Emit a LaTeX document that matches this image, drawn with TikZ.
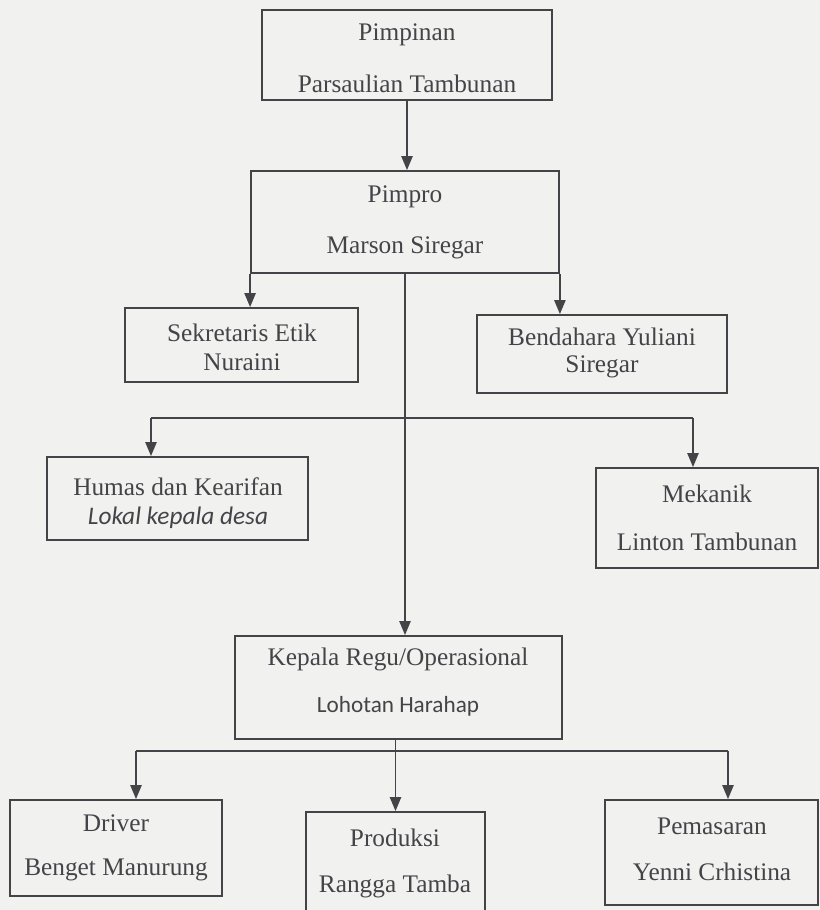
\documentclass[tikz,border=0pt]{standalone}
\usepackage{fontspec}
\setmainfont{Liberation Serif}
\newfontfamily\calibri{Carlito}
\usetikzlibrary{arrows.meta,fit,calc}
\definecolor{inkgray}{RGB}{68,68,72}
\definecolor{paper}{RGB}{241,241,240}

\begin{document}
\begin{tikzpicture}[x=0.025cm, y=-0.025cm,
  box/.style={draw=inkgray, line width=1.3pt, inner sep=0pt},
  lbl/.style={text=inkgray, font=\fontsize{18}{20}\selectfont, inner sep=0pt},
  arr/.style={draw=inkgray, line width=1.3pt, -{Triangle[length=10pt, width=8pt]}},
  link/.style={draw=inkgray, line width=1.3pt}]

% Page
\useasboundingbox (0,0) rectangle (820,910);
\fill[paper] (0,0) rectangle (820,910);

% Top level
\node[box, fit={(262,10) (552,100)}] (pimpinan) {};
\node[lbl] (pimpinan-jab) at (407,35) {Pimpinan};
\node[lbl] (pimpinan-nama) at (407,84) {Parsaulian Tambunan};

\node[box, fit={(251,171) (559,273)}] (pimpro) {};
\node[lbl] (pimpro-jab) at (405,197) {Pimpro};
\node[lbl] (pimpro-nama) at (405,248) {Marson Siregar};

% Staff
\node[box, fit={(125,308) (358,382)}] (sekretaris) {};
\node[lbl] (sekretaris-jab) at (242,333) {Sekretaris Etik};
\node[lbl] (sekretaris-nama) at (242,362) {Nuraini};

\node[box, fit={(477,315) (727,393)}] (bendahara) {};
\node[lbl] (bendahara-jab) at (602,337) {Bendahara Yuliani};
\node[lbl] (bendahara-nama) at (602,367) {Siregar};

\node[box, fit={(47,457) (308,540)}] (humas) {};
\node[lbl] (humas-jab) at (178,487) {Humas dan Kearifan};
\node[lbl, font=\calibri\itshape\fontsize{18}{20}\selectfont] (humas-nama) at (178,518) {Lokal kepala desa};

\node[box, fit={(596,468) (818,568)}] (mekanik) {};
\node[lbl] (mekanik-jab) at (707,494) {Mekanik};
\node[lbl] (mekanik-nama) at (707,542) {Linton Tambunan};

% Operations
\node[box, fit={(235,636) (562,739)}] (kepala) {};
\node[lbl] (kepala-jab) at (398,659) {Kepala Regu/Operasional};
\node[lbl, font=\calibri\fontsize{16.5}{20}\selectfont] (kepala-nama) at (398,706) {Lohotan Harahap};

\node[box, fit={(10,800) (222,896)}] (driver) {};
\node[lbl] (driver-jab) at (116,823) {Driver};
\node[lbl] (driver-nama) at (116,870) {Benget Manurung};

\node[box, fit={(306,812) (485,925)}] (produksi) {};
\node[lbl] (produksi-jab) at (395,838) {Produksi};
\node[lbl] (produksi-nama) at (395,886) {Rangga Tamba};

\node[box, fit={(605,800) (818,905)}] (pemasaran) {};
\node[lbl] (pemasaran-jab) at (712,826) {Pemasaran};
\node[lbl] (pemasaran-nama) at (712,872) {Yenni Crhistina};

% Connectors
\draw[arr] (pimpinan.south) -- (pimpinan.south |- pimpro.north);
\draw[arr] (pimpro.south west) -- (pimpro.south west |- sekretaris.north);
\draw[arr] (pimpro.south east) -- (pimpro.south east |- bendahara.north);
\draw[arr] (pimpro.south) -- (pimpro.south |- kepala.north);

\coordinate (staf-l) at (151,418);
\coordinate (staf-r) at (693,418);
\draw[link] (staf-l) -- (staf-r);
\draw[arr] (staf-l) -- (staf-l |- humas.north);
\draw[arr] (staf-r) -- (staf-r |- mekanik.north);

\coordinate (ops-l) at (136,751);
\coordinate (ops-r) at (728,751);
\draw[link] (ops-l) -- (ops-r);
\draw[arr] (ops-l) -- (ops-l |- driver.north);
\draw[arr] (ops-r) -- (ops-r |- pemasaran.north);
\draw[arr] (kepala.south -| produksi.north) -- (produksi.north);

\end{tikzpicture}
\end{document}
